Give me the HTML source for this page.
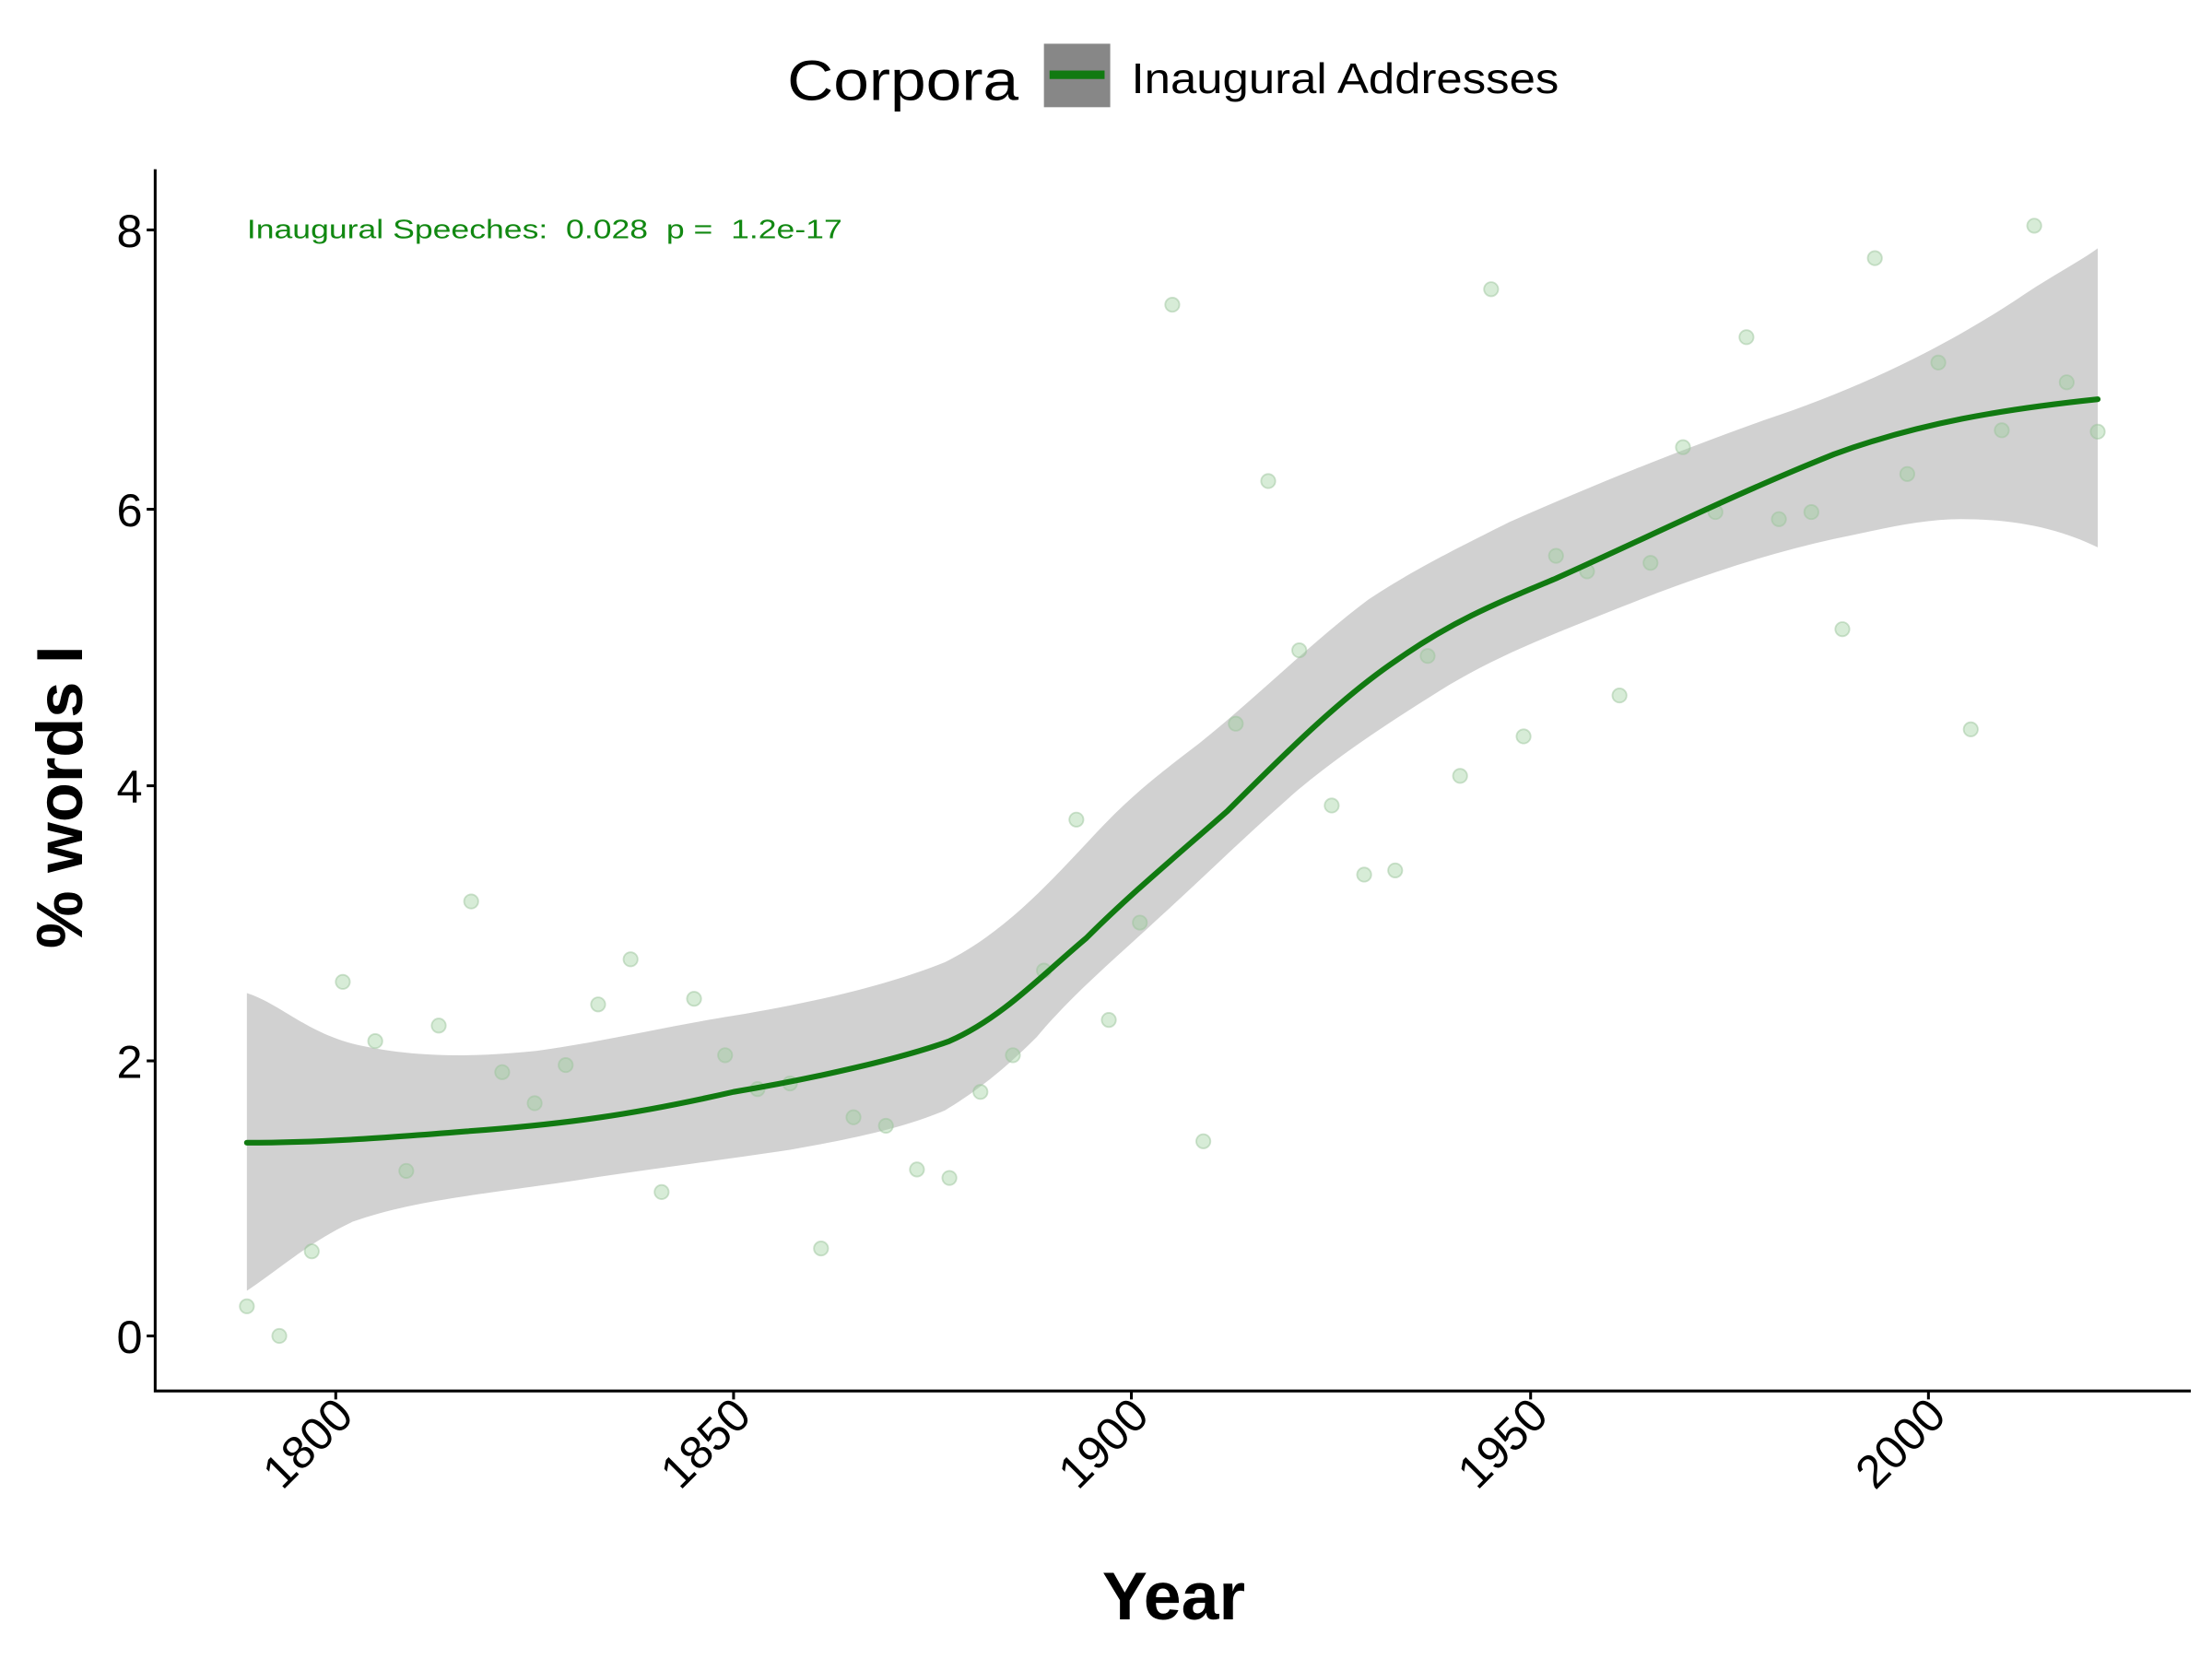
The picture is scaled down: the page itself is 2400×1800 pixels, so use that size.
<!DOCTYPE html>
<html><head><meta charset="utf-8"><style>
html,body{margin:0;padding:0;background:#fff;}
svg{display:block;}
text{font-family:"Liberation Sans",sans-serif;}
</style></head><body>
<svg width="2400" height="1800" viewBox="0 0 1568 1176" xmlns="http://www.w3.org/2000/svg">
<rect width="1568" height="1176" fill="#fff"/>
<!-- legend -->
<text x="558" y="71" font-size="40" fill="#000" textLength="164" lengthAdjust="spacingAndGlyphs">Corpora</text>
<rect x="740" y="31" width="47" height="45" fill="#878787"/>
<rect x="744" y="50" width="39" height="6" fill="#117a11"/>
<text x="802" y="66" font-size="30" fill="#000" textLength="303" lengthAdjust="spacingAndGlyphs">Inaugural Addresses</text>
<!-- band -->
<path d="M175,704 C200,712 220,735 260,742 C300,750 340,749 380,745 C430,738 470,728 520,720 C580,710 630,698 670,682 C710,662 740,630 770,598 C800,565 820,550 850,527 C890,495 930,455 970,425 C1000,405 1030,390 1070,370 C1120,348 1180,323 1250,298 C1320,275 1380,245 1430,212 C1455,195 1475,185 1487,176 L1487,388 C1460,375 1430,368 1390,368 C1360,368 1330,376 1300,382 C1250,393 1200,410 1150,430 C1100,450 1060,465 1020,490 C980,515 950,535 920,560 C880,595 850,625 820,652 C790,680 760,705 735,735 C710,760 690,775 670,787 C640,800 600,808 560,815 C500,824 450,830 400,838 C330,848 290,852 250,866 C220,880 200,898 175,915 Z" fill="#bdbdbd" fill-opacity="0.7"/>
<!-- points -->
<g fill="#9bd09b" fill-opacity="0.4" stroke="#9bc49b" stroke-opacity="0.5" stroke-width="1.2">
<circle cx="175" cy="926" r="5"/><circle cx="198" cy="947" r="5"/><circle cx="221" cy="887" r="5"/><circle cx="243" cy="696" r="5"/><circle cx="266" cy="738" r="5"/><circle cx="288" cy="830" r="5"/><circle cx="311" cy="727" r="5"/><circle cx="334" cy="639" r="5"/><circle cx="356" cy="760" r="5"/><circle cx="379" cy="782" r="5"/><circle cx="401" cy="755" r="5"/><circle cx="424" cy="712" r="5"/><circle cx="447" cy="680" r="5"/><circle cx="469" cy="845" r="5"/><circle cx="492" cy="708" r="5"/><circle cx="514" cy="748" r="5"/><circle cx="537" cy="772" r="5"/><circle cx="560" cy="768" r="5"/><circle cx="582" cy="885" r="5"/><circle cx="605" cy="792" r="5"/><circle cx="628" cy="798" r="5"/><circle cx="650" cy="829" r="5"/><circle cx="673" cy="835" r="5"/><circle cx="695" cy="774" r="5"/><circle cx="718" cy="748" r="5"/><circle cx="740" cy="688" r="5"/><circle cx="763" cy="581" r="5"/><circle cx="786" cy="723" r="5"/><circle cx="808" cy="654" r="5"/><circle cx="831" cy="216" r="5"/><circle cx="853" cy="809" r="5"/><circle cx="876" cy="513" r="5"/><circle cx="899" cy="341" r="5"/><circle cx="921" cy="461" r="5"/><circle cx="944" cy="571" r="5"/><circle cx="967" cy="620" r="5"/><circle cx="989" cy="617" r="5"/><circle cx="1012" cy="465" r="5"/><circle cx="1035" cy="550" r="5"/><circle cx="1057" cy="205" r="5"/><circle cx="1080" cy="522" r="5"/><circle cx="1103" cy="394" r="5"/><circle cx="1125" cy="405" r="5"/><circle cx="1148" cy="493" r="5"/><circle cx="1170" cy="399" r="5"/><circle cx="1193" cy="317" r="5"/><circle cx="1216" cy="363" r="5"/><circle cx="1238" cy="239" r="5"/><circle cx="1261" cy="368" r="5"/><circle cx="1284" cy="363" r="5"/><circle cx="1306" cy="446" r="5"/><circle cx="1329" cy="183" r="5"/><circle cx="1352" cy="336" r="5"/><circle cx="1374" cy="257" r="5"/><circle cx="1397" cy="517" r="5"/><circle cx="1419" cy="305" r="5"/><circle cx="1442" cy="160" r="5"/><circle cx="1465" cy="271" r="5"/><circle cx="1487" cy="306" r="5"/>
</g>
<!-- curve -->
<path d="M175,810 C230,810 280,806 330,802 C400,797 450,790 520,774 C580,764 640,750 673,738 C710,722 740,690 770,665 C800,635 830,610 870,575 C910,535 950,495 990,468 C1030,440 1060,428 1103,410 C1170,380 1230,350 1300,322 C1360,300 1420,290 1487,283" fill="none" stroke="#117a11" stroke-width="4" stroke-linecap="round"/>
<!-- annotation -->
<text x="175" y="169" font-size="19" fill="#118811" textLength="422" lengthAdjust="spacingAndGlyphs" xml:space="preserve">Inaugural Speeches:  0.028  p =  1.2e-17</text>
<!-- axes -->
<path d="M110,120 L110,986 L1553,986" fill="none" stroke="#000" stroke-width="2"/>
<g stroke="#000" stroke-width="2">
<line x1="104" y1="947" x2="110" y2="947"/><line x1="104" y1="752" x2="110" y2="752"/><line x1="104" y1="557" x2="110" y2="557"/><line x1="104" y1="361" x2="110" y2="361"/><line x1="104" y1="163" x2="110" y2="163"/>
<line x1="238" y1="986" x2="238" y2="992"/><line x1="520" y1="986" x2="520" y2="992"/><line x1="802" y1="986" x2="802" y2="992"/><line x1="1085" y1="986" x2="1085" y2="992"/><line x1="1367" y1="986" x2="1367" y2="992"/>
</g>
<g font-size="33" fill="#000" text-anchor="end">
<text x="101" y="959">0</text><text x="101" y="764">2</text><text x="101" y="569">4</text><text x="101" y="373">6</text><text x="101" y="175">8</text>
</g>
<g font-size="33" fill="#000" text-anchor="end">
<text transform="translate(252,1005) rotate(-45)">1800</text>
<text transform="translate(534,1005) rotate(-45)">1850</text>
<text transform="translate(816,1005) rotate(-45)">1900</text>
<text transform="translate(1099,1005) rotate(-45)">1950</text>
<text transform="translate(1381,1005) rotate(-45)">2000</text>
</g>
<text x="832" y="1148" font-size="48" font-weight="bold" text-anchor="middle" fill="#000">Year</text>
<text transform="translate(58,565) rotate(-90)" font-size="46" font-weight="bold" text-anchor="middle" fill="#000">% words I</text>
</svg>
</body></html>
